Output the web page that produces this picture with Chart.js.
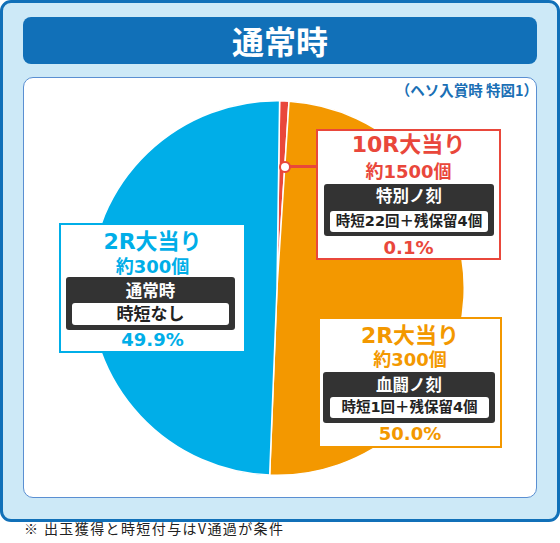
<!DOCTYPE html>
<html lang="ja">
<head>
<meta charset="UTF-8">
<title>通常時</title>
<script src="https://cdn.jsdelivr.net/npm/chart.js"></script>
<style>
    body {
        margin: 0;
        width: 560px;
        height: 543px;
        position: relative;
        background: #ffffff;
        font-family: "Noto Sans CJK JP", "Noto Sans", sans-serif;
        overflow: hidden;
    }
    .abs { position: absolute; }
    #frame {
        left: 0; top: 0; width: 560px; height: 522px;
        box-sizing: border-box;
        border: 3px solid #1170b8;
        border-radius: 11px;
        background: #cde9f7;
    }
    #title {
        left: 23px; top: 17px; width: 514px; height: 47px;
        background: #1170b8;
        border-radius: 8px;
        color: #fff;
        font-size: 32px;
        font-weight: bold;
        text-align: center;
        line-height: 46px;
    }
    #panel {
        left: 23px; top: 77px; width: 514px; height: 421px;
        box-sizing: border-box;
        background: #fff;
        border: 1px solid #5a8fd2;
        border-radius: 10px;
    }
    #sub {
        right: 22px; top: 83px;
        color: #1a6fb5;
        font-size: 14.5px;
        line-height: 1;
        font-weight: bold;
        white-space: nowrap;
    }
    #foot {
        left: 24px; top: 521px;
        font-size: 14px;
        line-height: 1;
        letter-spacing: 1.4px;
        color: #222;
        white-space: nowrap;
    }
    #pieWrap { left: 89px; top: 100px; width: 376px; height: 376px; }
    .box {
        position: absolute;
        box-sizing: border-box;
        background: #fff;
        border: 2.5px solid;
        font-family: "DejaVu Sans", "Noto Sans CJK JP", sans-serif;
    }
    .line {
        position: absolute;
        left: 0; width: 100%;
        text-align: center;
        font-weight: bold;
        white-space: nowrap;
        line-height: 1;
    }
    .big { font-size: 22px; }
    .mid { font-size: 18px; }
    .pct { font-size: 18px; }
    .dark {
        position: absolute;
        background: #333333;
        border-radius: 3px;
        font-family: "DejaVu Sans", "Noto Sans CJK JP", sans-serif;
    }
    .dark .head {
        position: absolute; left: 0; width: 100%;
        text-align: center; color: #fff; font-weight: bold; font-size: 16.5px;
        line-height: 1;
    }
    .dark .inner {
        position: absolute;
        background: #fff;
        border-radius: 3px;
        text-align: center;
        color: #222;
        font-weight: bold;
        white-space: nowrap;
    }
</style>
</head>
<body>

<div id="frame" class="abs"></div>
<div id="title" class="abs">通常時</div>
<div id="panel" class="abs"></div>
<div id="sub" class="abs">（ヘソ入賞時 特図1）</div>

<div id="pieWrap" class="abs">
    <canvas id="pie" width="376" height="376"></canvas>
</div>

<!-- 10R 大当り -->
<div class="abs" style="left:289px; top:165px; width:28px; height:3px; background:#e9473b;"></div>
<div class="abs" style="left:279px; top:161px; width:12px; height:12px; box-sizing:border-box; border:2.5px solid #e9473b; border-radius:50%; background:#fff;"></div>
<div class="box" style="left:316px; top:129px; width:185px; height:131px; border-color:#e9473b; color:#e9473b;">
    <div class="line big" style="top:3px;">10R大当り</div>
    <div class="line mid" style="top:32px;">約1500個</div>
    <div class="line pct" style="top:108px;">0.1%</div>
</div>
<div class="dark" style="left:324px; top:184px; width:170px; height:52px;">
    <div class="head" style="top:5px;">特別ノ刻</div>
    <div class="inner" style="left:6px; top:27px; width:158px; height:21px; font-size:14.5px; line-height:21px;">時短22回＋残保留4個</div>
</div>

<!-- 2R 大当り (通常時) -->
<div class="box" style="left:59px; top:223px; width:187px; height:130px; border-color:#00aee8; color:#00aee8;">
    <div class="line big" style="top:6px;">2R大当り</div>
    <div class="line mid" style="top:33px;">約300個</div>
    <div class="line pct" style="top:106px;">49.9%</div>
</div>
<div class="dark" style="left:66px; top:277px; width:169px; height:53px;">
    <div class="head" style="top:7px;">通常時</div>
    <div class="inner" style="left:6px; top:26px; width:157px; height:22px; font-size:17px; line-height:22px;">時短なし</div>
</div>

<!-- 2R 大当り (血闘ノ刻) -->
<div class="box" style="left:318px; top:317px; width:184px; height:131px; border-color:#f39800; color:#f39800;">
    <div class="line big" style="top:6px;">2R大当り</div>
    <div class="line mid" style="top:32px;">約300個</div>
    <div class="line pct" style="top:106px;">50.0%</div>
</div>
<div class="dark" style="left:323px; top:372px; width:172px; height:51px;">
    <div class="head" style="top:6px;">血闘ノ刻</div>
    <div class="inner" style="left:7px; top:25px; width:159px; height:21px; font-size:14.5px; line-height:21px;">時短1回＋残保留4個</div>
</div>

<div id="foot" class="abs">※ 出玉獲得と時短付与はV通過が条件</div>

<script>
    // 当選区分
    const categories = ['10R大当り', '2R大当り（血闘ノ刻）', '2R大当り（通常時）'];
    // 表記上の振り分け (%)
    const percentLabels = [0.1, 50.0, 49.9];
    // 円グラフ上に描かれている扇形の大きさ (%) - 図から読み取り
    const sliceShares = [0.8, 49.6, 49.6];
    const sliceColors = ['#e9473b', '#f39800', '#00aee8'];

    const ctx = document.getElementById('pie').getContext('2d');
    const pieChart = new Chart(ctx, {
        type: 'pie',
        data: {
            labels: categories,
            datasets: [{
                data: sliceShares,
                backgroundColor: sliceColors,
                borderColor: '#ffffff',
                borderWidth: 1.5
            }]
        },
        options: {
            responsive: false,
            animation: false,
            rotation: 0.8,
            layout: { padding: 0 },
            plugins: {
                legend: { display: false },
                tooltip: { enabled: false }
            }
        }
    });
</script>

</body>
</html>
